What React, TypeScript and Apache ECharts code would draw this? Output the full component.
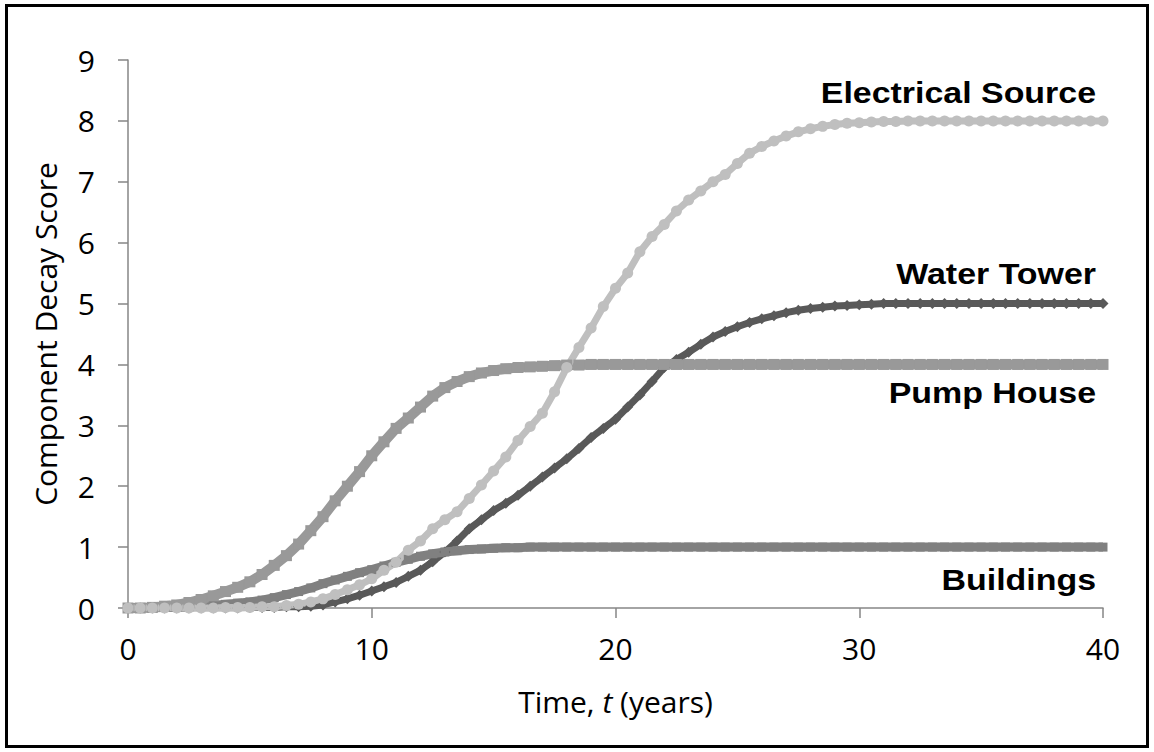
import React, { useEffect, useRef } from "react";
import * as echarts from "echarts";

// sampling times (years), every half year from 0 to 40
const years: number[] = Array.from({ length: 81 }, (_, i) => i * 0.5);

const electricalSource = [
  0, 0, 0, 0, 0, 0, 0, 0, 0.01, 0.01, 0.01, 0.02, 0.02, 0.04, 0.06, 0.1,
  0.15, 0.22, 0.3, 0.38, 0.48, 0.62, 0.75, 0.95, 1.1, 1.3, 1.45, 1.58, 1.8, 2.02,
  2.25, 2.48, 2.75, 2.98, 3.2, 3.55, 3.95, 4.28, 4.6, 4.95, 5.25, 5.5, 5.85,
  6.1, 6.3, 6.52, 6.7, 6.85, 7.0, 7.12, 7.3, 7.47, 7.58, 7.67, 7.75, 7.82, 7.87,
  7.91, 7.94, 7.96, 7.97, 7.98, 7.99, 7.99,
  8, 8, 8, 8, 8, 8, 8, 8, 8, 8, 8, 8, 8, 8, 8, 8, 8,
];

const waterTower = [
  0, 0, 0, 0, 0, 0, 0, 0, 0, 0, 0.01, 0.01, 0.01, 0.02, 0.02, 0.03, 0.05, 0.1,
  0.15, 0.21, 0.28, 0.35, 0.42, 0.52, 0.62, 0.76, 0.92, 1.1, 1.3, 1.45, 1.6,
  1.72, 1.85, 2.0, 2.15, 2.3, 2.45, 2.62, 2.8, 2.95, 3.1, 3.3, 3.5, 3.72, 3.95,
  4.08, 4.2, 4.33, 4.45, 4.54, 4.62, 4.69, 4.75, 4.8, 4.85, 4.89, 4.92, 4.94,
  4.96, 4.97, 4.98, 4.99,
  5, 5, 5, 5, 5, 5, 5, 5, 5, 5, 5, 5, 5, 5, 5, 5, 5, 5, 5,
];

const pumpHouse = [
  0, 0, 0.01, 0.03, 0.05, 0.09, 0.14, 0.2, 0.27, 0.34, 0.43, 0.55, 0.7, 0.86,
  1.05, 1.27, 1.5, 1.76, 2.0, 2.24, 2.5, 2.73, 2.95, 3.12, 3.3, 3.48, 3.62,
  3.72, 3.8, 3.86, 3.9, 3.93, 3.95, 3.96, 3.97, 3.98, 3.99, 3.99,
  4, 4, 4, 4, 4, 4, 4, 4, 4, 4, 4, 4, 4, 4, 4, 4, 4, 4, 4, 4, 4, 4,
  4, 4, 4, 4, 4, 4, 4, 4, 4, 4, 4, 4, 4, 4, 4, 4, 4, 4, 4, 4, 4, 4, 4,
];

const buildings = [
  0, 0, 0, 0.01, 0.01, 0.02, 0.03, 0.04, 0.06, 0.08, 0.1, 0.13, 0.17, 0.22,
  0.27, 0.33, 0.4, 0.46, 0.52, 0.58, 0.63, 0.69, 0.75, 0.8, 0.85, 0.89, 0.92,
  0.94, 0.96, 0.97, 0.98, 0.99, 0.99,
  1, 1, 1, 1, 1, 1, 1, 1, 1, 1, 1, 1, 1, 1, 1, 1, 1, 1, 1, 1, 1, 1, 1, 1, 1,
  1, 1, 1, 1, 1, 1, 1, 1, 1, 1, 1, 1, 1, 1, 1, 1, 1, 1, 1, 1, 1, 1, 1, 1,
];

const seriesNames = ["Electrical Source", "Water Tower", "Pump House", "Buildings"];
const xTicks = { min: 0, max: 40, step: 10 };
const yTicks = { min: 0, max: 9, step: 1 };

const pair = (vals: number[]) => vals.map((v, i) => [years[i], v]);

export default function App() {
  const ref = useRef<HTMLDivElement>(null);
  useEffect(() => {
    document.body.style.margin = "0";
    const chart = echarts.init(ref.current!, undefined, { renderer: "svg" });
    const axisColor = "#868686";
    const labelFont = "Open Sans";
    const fs = 30;
    const mk = (name: string, vals: number[], color: string, symbol: string, size: number, width: number) => ({
      name,
      type: "line",
      data: pair(vals),
      symbol,
      symbolSize: size,
      showAllSymbol: true,
      lineStyle: { color, width },
      itemStyle: { color },
      emphasis: { disabled: true },
    });
    chart.setOption({
      animation: false,
      grid: { left: 128, right: 51, top: 60, bottom: 144 },
      xAxis: {
        type: "value",
        min: xTicks.min,
        max: xTicks.max,
        interval: xTicks.step,
        splitLine: { show: false },
        axisLine: { lineStyle: { color: axisColor, width: 1.5 } },
        axisTick: { show: true, inside: false, length: 10, lineStyle: { color: axisColor, width: 1.5 } },
        axisLabel: { color: "#000", fontFamily: labelFont, fontSize: fs, margin: 25 },
        name: "{a|Time, }{b|t}{a| (years)}",
        nameLocation: "middle",
        nameGap: 78,
        nameTextStyle: {
          rich: {
            a: { fontFamily: labelFont, fontSize: fs, color: "#000" },
            b: { fontFamily: labelFont, fontSize: fs, color: "#000", fontStyle: "italic" },
          },
        },
      },
      yAxis: {
        type: "value",
        min: yTicks.min,
        max: yTicks.max,
        interval: yTicks.step,
        splitLine: { show: false },
        axisLine: { show: true, lineStyle: { color: axisColor, width: 1.5 } },
        axisTick: { show: true, inside: false, length: 10, lineStyle: { color: axisColor, width: 1.5 } },
        axisLabel: { color: "#000", fontFamily: labelFont, fontSize: fs, margin: 33 },
        name: "Component Decay Score",
        nameLocation: "middle",
        nameGap: 68,
        nameTextStyle: { fontFamily: labelFont, fontSize: fs, color: "#000" },
      },
      series: [
        mk(seriesNames[1], waterTower, "#595959", "diamond", 11, 7),
        mk(seriesNames[3], buildings, "#808080", "rect", 9, 9),
        mk(seriesNames[2], pumpHouse, "#999999", "rect", 11, 10),
        mk(seriesNames[0], electricalSource, "#bfbfbf", "circle", 11, 7),
      ],
      graphic: [
        {
          type: "rect",
          shape: { x: 6.5, y: 5.5, width: 1141, height: 741 },
          style: { fill: "none", stroke: "#000", lineWidth: 3 },
          silent: true,
        },
        ...[
          { t: seriesNames[0], y: 93 },
          { t: seriesNames[1], y: 274 },
          { t: seriesNames[2], y: 393 },
          { t: seriesNames[3], y: 580 },
        ].map((d) => ({
          type: "text",
          x: 1096,
          y: d.y,
          scaleX: 1.17,
          style: {
            text: d.t,
            fontFamily: "Liberation Sans",
            fontWeight: "bold",
            fontSize: 29,
            fill: "#000",
            align: "right",
            verticalAlign: "middle",
          },
        })),
      ],
    });
    return () => chart.dispose();
  }, []);
  return <div ref={ref} style={{ width: 1154, height: 752 }} />;
}
